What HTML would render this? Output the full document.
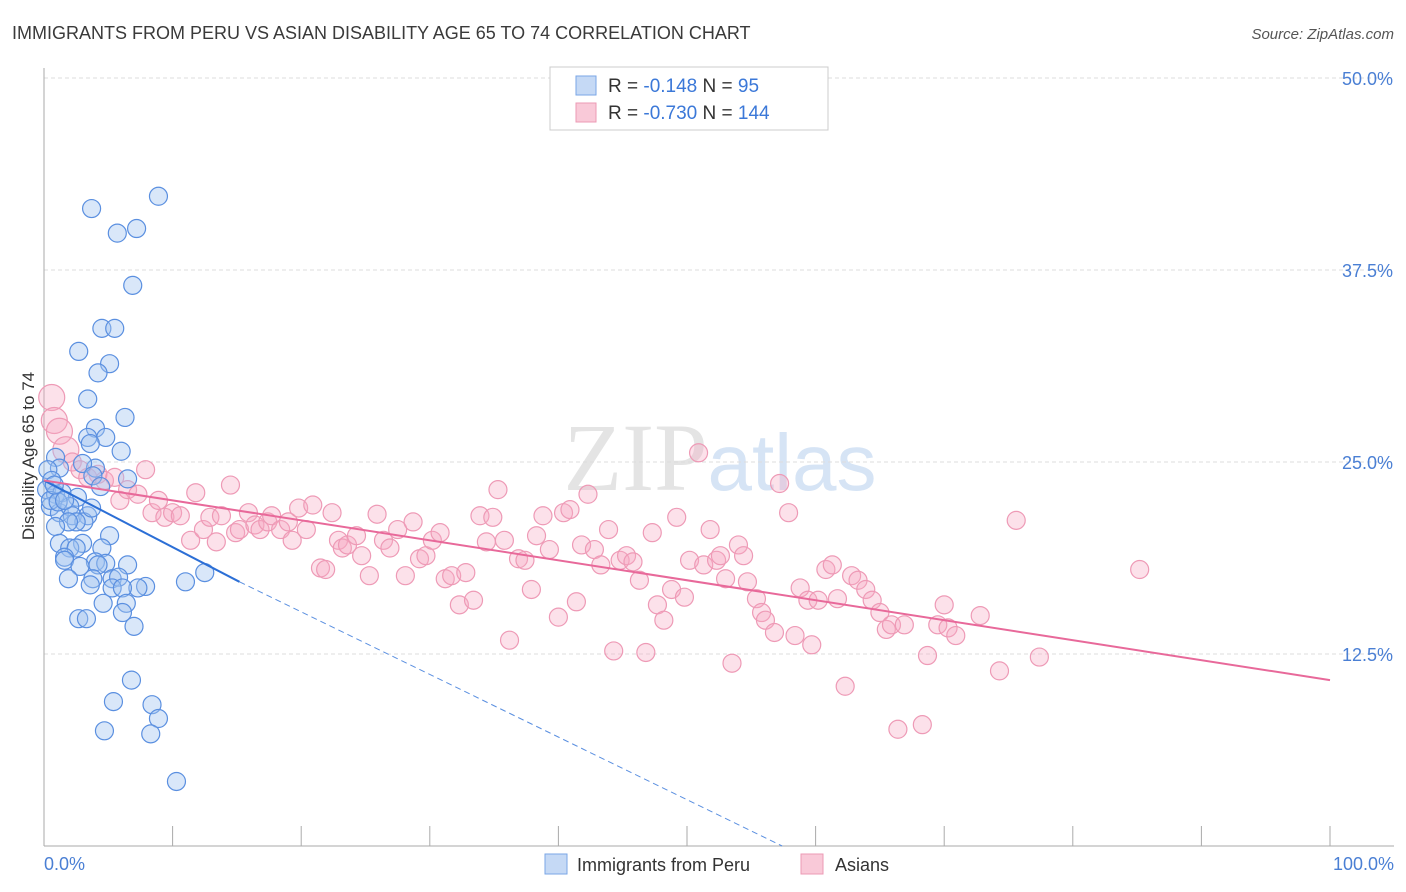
<!DOCTYPE html>
<html><head><meta charset="utf-8"><style>
body{margin:0;background:#fff;font-family:"Liberation Sans",sans-serif;}
svg{display:block}
</style></head><body>
<svg id="chart" width="1406" height="892" xmlns="http://www.w3.org/2000/svg">
<text x="12" y="39" font-size="18" fill="#3a3a3a">IMMIGRANTS FROM PERU VS ASIAN DISABILITY AGE 65 TO 74 CORRELATION CHART</text>
<text x="1394" y="39" font-size="15" fill="#555" text-anchor="end" font-style="italic">Source: ZipAtlas.com</text>
<text x="720" y="490" font-size="96" fill="#e4e4e4" text-anchor="middle" font-family="Liberation Serif,serif">ZIP<tspan fill="#d6e4f5" font-family="Liberation Sans,sans-serif" font-size="80">atlas</tspan></text>
<g id="grid"></g><g id="axes"></g><g id="pts"></g><g id="trend"></g>
<text transform="translate(34,456) rotate(-90)" font-size="17" fill="#333" text-anchor="middle">Disability Age 65 to 74</text>
<text x="44" y="870" font-size="18" fill="#4a7fd4">0.0%</text>
<text x="1394" y="870" font-size="18" fill="#4a7fd4" text-anchor="end">100.0%</text>
<g>
<rect x="550" y="67" width="278" height="63" fill="#fff" stroke="#ccc"/>
<rect x="576" y="76" width="20" height="19" fill="#c5d9f5" stroke="#7aa6e6"/>
<rect x="576" y="103" width="20" height="19" fill="#f9c9d8" stroke="#ec9ab4"/>
<text x="608" y="92" font-size="19" fill="#333">R = <tspan fill="#3b78d8">-0.148</tspan>   N = <tspan fill="#3b78d8"> 95</tspan></text>
<text x="608" y="119" font-size="19" fill="#333">R = <tspan fill="#3b78d8">-0.730</tspan>   N = <tspan fill="#3b78d8">144</tspan></text>
</g>
<g>
<rect x="545" y="854" width="22" height="20" fill="#c5d9f5" stroke="#7aa6e6"/>
<text x="577" y="871" font-size="18" fill="#333">Immigrants from Peru</text>
<rect x="801" y="854" width="22" height="20" fill="#f9c9d8" stroke="#ec9ab4"/>
<text x="835" y="871" font-size="18" fill="#333">Asians</text>
</g>
</svg>
<script>
const yTicks=[12.5,25,37.5,50];
const yTickLabels=["12.5%","25.0%","37.5%","50.0%"];
const blueX=[8.9,3.7,5.7,7.2,6.9,4.5,5.5,2.7,5.1,4.2,3.4,6.3,4.0,3.4,4.8,3.6,6.0,0.9,1.2,4.0,3.0,3.8,6.5,4.4,0.3,0.6,0.2,0.9,1.4,2.6,0.5,1.2,2.0,2.2,3.4,3.1,2.5,1.9,3.7,0.9,5.1,3.0,1.2,2.0,2.5,4.5,1.6,1.6,4.0,4.8,6.5,2.8,4.2,5.3,5.8,1.9,3.8,11.0,12.5,3.6,7.9,7.3,5.3,6.1,4.6,6.4,6.1,2.7,3.3,7.0,6.8,5.4,8.4,8.9,4.7,8.3,10.3,0.5,1.1,1.6,0.8];
const blueY=[42.3,41.5,39.9,40.2,36.5,33.7,33.7,32.2,31.4,30.8,29.1,27.9,27.2,26.6,26.6,26.2,25.7,25.3,24.6,24.6,24.9,24.1,23.9,23.4,24.5,23.8,23.2,22.9,23.0,22.7,22.1,21.7,22.1,21.5,21.5,21.1,21.1,21.1,22.0,20.8,20.2,19.7,19.7,19.4,19.4,19.4,18.8,18.6,18.5,18.4,18.3,18.2,18.3,17.4,17.5,17.4,17.4,17.2,17.8,17.0,16.9,16.8,16.8,16.8,15.8,15.8,15.2,14.8,14.8,14.3,10.8,9.4,9.2,8.3,7.5,7.3,4.2,22.5,22.4,22.5,23.5];
const pinkX=[0.6,0.8,1.2,1.7,2.2,2.8,3.4,4.2,4.7,5.5,5.9,6.5,7.3,7.9,8.4,8.9,9.4,10.0,10.6,11.4,11.8,12.4,12.9,13.4,13.8,14.5,14.9,15.2,15.9,16.4,16.8,17.4,17.7,18.4,19.0,19.3,19.8,20.4,20.9,21.5,21.9,22.4,22.9,23.2,23.6,24.3,24.7,25.3,25.9,26.4,26.9,27.5,28.1,28.7,29.2,29.7,30.2,30.8,31.2,31.7,32.3,32.8,33.4,33.9,34.4,34.9,35.3,35.8,36.2,36.9,37.4,37.9,38.3,38.8,39.3,40.0,40.4,40.9,41.4,41.8,42.3,42.8,43.3,43.9,44.3,44.8,45.3,45.8,46.3,46.8,47.3,47.7,48.2,48.8,49.2,49.8,50.2,50.9,51.3,51.8,52.3,52.6,53.0,53.5,54.0,54.4,54.7,55.4,55.8,56.1,56.8,57.2,57.9,58.4,58.8,59.4,59.7,60.2,60.8,61.3,61.7,62.3,62.8,63.3,63.9,64.4,65.0,65.5,65.9,66.4,66.9,68.3,68.7,69.5,70.0,70.3,70.9,72.8,74.3,75.6,77.4,85.2];
const pinkY=[29.2,27.7,27.0,25.8,25.0,24.5,24.0,24.2,23.8,24.0,22.5,23.2,22.9,24.5,21.7,22.5,21.4,21.7,21.5,19.9,23.0,20.6,21.4,19.8,21.5,23.5,20.4,20.6,21.7,20.9,20.6,21.1,21.5,20.6,21.1,19.9,22.0,20.6,22.2,18.1,18.0,21.7,19.9,19.4,19.6,20.2,18.9,17.6,21.6,19.9,19.4,20.6,17.6,21.1,18.7,18.9,19.9,20.4,17.4,17.6,15.7,17.8,16.0,21.5,19.8,21.4,23.2,19.9,13.4,18.7,18.6,16.7,20.2,21.5,19.3,14.9,21.7,21.9,15.9,19.6,22.9,19.3,18.3,20.6,12.7,18.6,18.9,18.5,17.3,12.6,20.4,15.7,14.7,16.7,21.4,16.2,18.6,25.6,18.3,20.6,18.6,18.9,17.4,11.9,19.6,18.9,17.2,16.1,15.2,14.7,13.9,23.6,21.7,13.7,16.8,16.0,13.1,16.0,18.0,18.3,16.1,10.4,17.6,17.3,16.7,16.0,15.2,14.1,14.4,7.6,14.4,7.9,12.4,14.4,15.7,14.2,13.7,15.0,11.4,21.2,12.3,18.0];
const blueTrend=[23.8,17.2,15.2,0,57.4];
const pinkTrend=[23.8,10.8];
const NS="http://www.w3.org/2000/svg";
const X0=44,X1=1330,Y0=846,PPU=15.36;
function sx(v){return X0+(X1-X0)*v/100;}
function sy(v){return Y0-v*PPU;}
function mk(p,tag,a){const e=document.createElementNS(NS,tag);for(const k in a)e.setAttribute(k,a[k]);p.appendChild(e);return e;}
const grid=document.getElementById('grid'),axes=document.getElementById('axes'),pts=document.getElementById('pts'),tr=document.getElementById('trend');
yTicks.forEach((t,i)=>{
 const l=mk(grid,'line',{x1:X0,x2:1394,y1:sy(t),y2:sy(t),stroke:'#ddd','stroke-dasharray':'4,3'});
 
 
 const tx=mk(axes,'text',{x:1393,y:sy(t)+7,'font-size':18,fill:'#4a7fd4','text-anchor':'end'});
 tx.textContent=yTickLabels[i];
 
 
});
let a=mk(axes,'line',{x1:X0,x2:X0,y1:68,y2:Y0,stroke:'#aaa'});


a=mk(axes,'line',{x1:X0,x2:1394,y1:Y0,y2:Y0,stroke:'#aaa'});


for(let i=0;i<=10;i++){
 const t=mk(axes,'line',{x1:sx(i*10),x2:sx(i*10),y1:Y0-20,y2:Y0,stroke:'#aaa'});
 
 
}
pinkX.forEach((x,i)=>{
 const r=i<4?13:9;
 const c=mk(pts,'circle',{cx:sx(x),cy:sy(pinkY[i]),r:r,fill:'rgba(246,170,196,0.35)',stroke:'#ee9ab6','stroke-width':1.2});
 
 
});
blueX.forEach((x,i)=>{
 const c=mk(pts,'circle',{cx:sx(x),cy:sy(blueY[i]),r:9,fill:'rgba(160,195,240,0.4)',stroke:'#5a8fe0','stroke-width':1.2});
 
 
});
let l=mk(tr,'line',{x1:sx(0),y1:sy(blueTrend[0]),x2:sx(blueTrend[2]),y2:sy(blueTrend[1]),stroke:'#2c6fd6','stroke-width':2});


l=mk(tr,'line',{x1:sx(blueTrend[2]),y1:sy(blueTrend[1]),x2:sx(blueTrend[4]),y2:sy(blueTrend[3]),stroke:'#5a8fe0','stroke-width':1,'stroke-dasharray':'6,4'});


l=mk(tr,'line',{x1:sx(0),y1:sy(pinkTrend[0]),x2:sx(100),y2:sy(pinkTrend[1]),stroke:'#e8699a','stroke-width':2});


</script>
</body></html>
